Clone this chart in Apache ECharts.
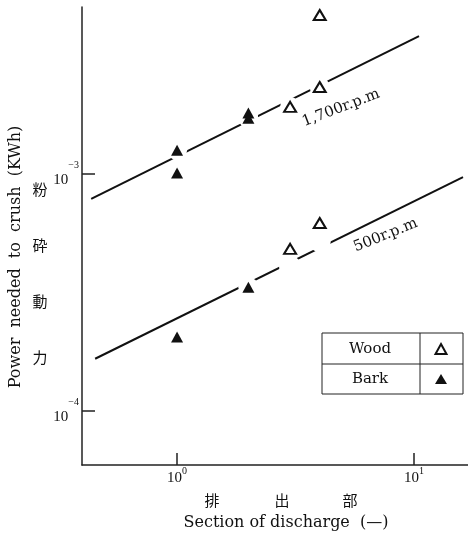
<!DOCTYPE html>
<html>
<head>
<meta charset="utf-8">
<script src="https://cdn.jsdelivr.net/npm/echarts@6/dist/echarts.min.js"></script>
<style>
html,body{margin:0;padding:0;background:#fff;}
#c{width:468px;height:533px;}
</style>
</head>
<body>
<div id="c"></div>
<script>
// ---- data ----
const xTicks = [1, 10];
const yTicks = [1e-4, 1e-3];
const wood1700X = [3, 4, 4];
const wood1700Y = [1.92e-3, 2.33e-3, 4.69e-3];
const bark1700X = [1, 1, 2, 2];
const bark1700Y = [1.26e-3, 1.01e-3, 1.81e-3, 1.72e-3];
const wood500X = [3, 4];
const wood500Y = [4.83e-4, 6.21e-4];
const bark500X = [1, 2];
const bark500Y = [2.05e-4, 3.33e-4];
const fit1700X = [0.434, 10.5];
const fit1700Y = [7.85e-4, 3.82e-3];
const fit500X = [0.451, 16.1];
const fit500Y = [1.66e-4, 9.71e-4];
const lineLabels = ['1,700r.p.m', '500r.p.m'];
const legendNames = ['Wood', 'Bark'];

const pairs = (xs, ys) => xs.map((x, i) => [x, ys[i]]);
const SERIF = '"DejaVu Serif", "Liberation Serif", serif';
const TSERIF = '"Liberation Serif", "DejaVu Serif", serif';
const CJK = '"Noto Sans CJK JP", sans-serif';

const chart = echarts.init(document.getElementById('c'), null, {renderer: 'canvas'});

const hollow = {color: '#fff', borderColor: '#111', borderWidth: 2, opacity: 1};
const filled = {color: '#111', opacity: 1};
const maskStyle = {color: '#fff', opacity: 1};

function supLabel(v) {
  const e = Math.round(Math.log10(v));
  return '{b|10}{s|' + String(e).replace('-', '\u2212') + '}';
}

const option = {
  animation: false,
  backgroundColor: '#fff',
  grid: {left: 82, top: 7, right: 0, bottom: 68},
  xAxis: {
    type: 'log', logBase: 10, min: 0.397, max: 16.9,
    axisLine: {lineStyle: {color: '#222', width: 1.5}},
    axisTick: {show: true, inside: true, length: 12, lineStyle: {color: '#222', width: 1.5}, customValues: xTicks},
    axisLabel: {
      customValues: xTicks, margin: 1, color: '#111',
      formatter: supLabel,
      rich: {
        b: {fontSize: 15, fontFamily: TSERIF, color: '#111'},
        s: {fontSize: 10, fontFamily: TSERIF, color: '#111', padding: [0, 0, 14, 0]}
      }
    },
    splitLine: {show: false}, minorTick: {show: false}
  },
  yAxis: {
    type: 'log', logBase: 10, min: 5.91e-5, max: 5.07e-3,
    axisLine: {lineStyle: {color: '#222', width: 1.5}},
    axisTick: {show: true, inside: true, length: 13, lineStyle: {color: '#222', width: 1.5}, customValues: yTicks},
    axisLabel: {
      customValues: yTicks, margin: 3, color: '#111',
      formatter: supLabel,
      rich: {
        b: {fontSize: 15, fontFamily: TSERIF, color: '#111', padding: [12, 0, 0, 0]},
        s: {fontSize: 10, fontFamily: TSERIF, color: '#111', padding: [0, 0, 18, 0]}
      }
    },
    splitLine: {show: false}, minorTick: {show: false}
  },
  series: [
    {
      type: 'line', data: pairs(fit1700X, fit1700Y), symbol: 'none', z: 2,
      lineStyle: {color: '#111', width: 2},
      markPoint: {
        symbol: 'circle', symbolSize: 0,
        data: [{coord: [4.92, 1.90e-3], value: lineLabels[0]}],
        label: {show: true, formatter: lineLabels[0], rotate: 21, color: '#111', fontSize: 15, fontFamily: SERIF, position: 'inside'}
      }
    },
    {
      type: 'line', data: pairs(fit500X, fit500Y), symbol: 'none', z: 2,
      lineStyle: {color: '#111', width: 2},
      markPoint: {
        symbol: 'circle', symbolSize: 0,
        data: [{coord: [7.59, 5.51e-4], value: lineLabels[1]}],
        label: {show: true, formatter: lineLabels[1], rotate: 22, color: '#111', fontSize: 15, fontFamily: SERIF, position: 'inside'}
      }
    },
    // white masks that break the fitted lines around the points
    {type: 'scatter', data: pairs(wood1700X, wood1700Y).concat(pairs(bark1700X, bark1700Y), pairs(bark500X, bark500Y)),
     symbol: 'circle', symbolSize: 20, itemStyle: maskStyle, z: 3, silent: true},
    {type: 'scatter', data: pairs(wood500X, wood500Y), symbol: 'circle', symbolSize: 22, symbolOffset: [0, 18],
     itemStyle: maskStyle, z: 3, silent: true},
    // markers
    {name: legendNames[0], type: 'scatter', data: pairs(wood1700X, wood1700Y).concat(pairs(wood500X, wood500Y)),
     symbol: 'triangle', symbolSize: [12, 10], itemStyle: hollow, z: 4},
    {name: legendNames[1], type: 'scatter', data: pairs(bark1700X, bark1700Y).concat(pairs(bark500X, bark500Y)),
     symbol: 'triangle', symbolSize: [12, 11], itemStyle: filled, z: 4}
  ],
  graphic: [
    // axis titles
    {type: 'text', x: 286, y: 523, style: {text: 'Section of discharge  (—)', font: '16px ' + SERIF, fill: '#111', align: 'center', verticalAlign: 'middle'}},
    {type: 'text', x: 212, y: 500, style: {text: '排', font: '15px ' + CJK, fill: '#111', align: 'center', verticalAlign: 'middle'}},
    {type: 'text', x: 282, y: 500, style: {text: '出', font: '15px ' + CJK, fill: '#111', align: 'center', verticalAlign: 'middle'}},
    {type: 'text', x: 350, y: 500, style: {text: '部', font: '15px ' + CJK, fill: '#111', align: 'center', verticalAlign: 'middle'}},
    {type: 'text', x: 16, y: 257, rotation: Math.PI / 2, style: {text: 'Power  needed  to  crush  (KWh)', font: '16px ' + SERIF, fill: '#111', align: 'center', verticalAlign: 'middle'}},
    {type: 'text', x: 40, y: 273, style: {text: '粉\n砕\n動\n力', font: '15px ' + CJK, lineHeight: 56, fill: '#111', align: 'center', verticalAlign: 'middle'}},
    // legend table
    {type: 'rect', shape: {x: 322, y: 333, width: 141, height: 61}, style: {fill: 'none', stroke: '#222', lineWidth: 1}},
    {type: 'line', shape: {x1: 322, y1: 364, x2: 463, y2: 364}, style: {stroke: '#222', lineWidth: 1}},
    {type: 'line', shape: {x1: 420, y1: 333, x2: 420, y2: 394}, style: {stroke: '#222', lineWidth: 1}},
    {type: 'text', x: 370, y: 349, style: {text: legendNames[0], font: '15px ' + SERIF, fill: '#111', align: 'center', verticalAlign: 'middle'}},
    {type: 'text', x: 370, y: 379, style: {text: legendNames[1], font: '15px ' + SERIF, fill: '#111', align: 'center', verticalAlign: 'middle'}},
    {type: 'polygon', shape: {points: [[441, 344], [446.5, 354], [435.5, 354]]}, style: {fill: '#fff', stroke: '#111', lineWidth: 2}},
    {type: 'polygon', shape: {points: [[441, 374], [447, 384], [435, 384]]}, style: {fill: '#111'}}
  ]
};
chart.setOption(option);
</script>
</body>
</html>
